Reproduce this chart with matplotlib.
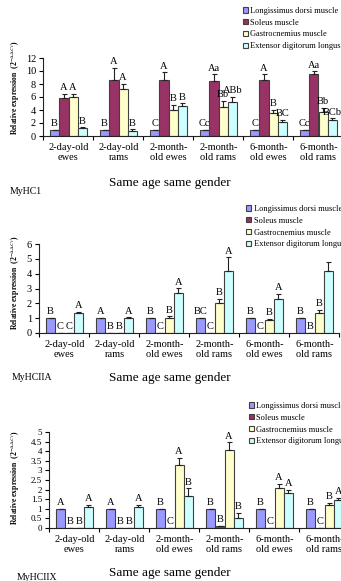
import numpy as np
import matplotlib
matplotlib.use('Agg')
import matplotlib.pyplot as plt

plt.rcParams['font.family'] = ['Liberation Serif', 'Noto Sans CJK SC']
plt.rcParams['mathtext.fontset'] = 'stix'

groups = ['2-day-old\newes', '2-day-old\nrams', '2-month-\nold ewes',
          '2-month-\nold rams', '6-month-\nold ewes', '6-month-\nold rams']
muscles = ['Longissimus dorsi muscle', 'Soleus muscle',
           'Gastrocnemius muscle', 'Extensor digitorum longus']
colors = ['#9999ff', '#993366', '#ffffcc', '#ccffff']

# MyHC1
i_ld = [1, 1, 1, 1, 1, 1]
i_sol = [5.92, 8.66, 8.66, 8.46, 8.56, 9.47]
i_gas = [6.03, 7.29, 4.0, 4.4, 3.49, 3.65]
i_edl = [1.16, 0.81, 4.56, 5.27, 2.13, 2.43]
i_ld_err = [0, 0, 0, 0, 0, 0]
i_sol_err = [0.6, 1.8, 1.15, 1.05, 0.95, 0.5]
i_gas_err = [0.5, 0.75, 0.75, 1.0, 0.5, 0.7]
i_edl_err = [0.15, 0.2, 0.45, 0.75, 0.4, 0.3]
i_let = [['B', 'B', 'C', 'Cc', 'C', 'Cc'],
         ['A', 'A', 'A', 'Aa', 'A', 'Aa'],
         ['A', 'A', 'B', 'Bb', 'B', 'Bb'],
         ['B', 'B', 'B', 'ABb', 'BC', 'BCb']]

# MyHCIIA
a_ld = [1, 1, 1, 1, 1, 1]
a_sol = [0.02, 0.02, 0.02, 0.02, 0.02, 0.02]
a_gas = [0.02, 0.02, 1.0, 2.04, 0.88, 1.34]
a_edl = [1.36, 0.98, 2.68, 4.15, 2.26, 4.2]
a_ld_err = [0, 0, 0, 0, 0, 0]
a_sol_err = [0, 0, 0, 0, 0, 0]
a_gas_err = [0, 0, 0.12, 0.27, 0.07, 0.22]
a_edl_err = [0.08, 0.08, 0.34, 0.95, 0.38, 0.6]
a_let = [['B', 'A', 'B', 'BC', 'B', 'B'],
         ['C', 'B', 'C', 'C', 'C', 'B'],
         ['C', 'B', 'B', 'B', 'B', 'B'],
         ['A', 'A', 'A', 'A', 'A', '']]

# MyHCIIX
x_ld = [1, 1, 1, 1, 1, 1]
x_sol = [0.02, 0.02, 0.02, 0.1, 0.02, 0.02]
x_gas = [0.02, 0.02, 3.3, 4.08, 2.06, 1.21]
x_edl = [1.09, 1.09, 1.66, 0.52, 1.8, 1.44]
x_ld_err = [0, 0, 0, 0, 0, 0]
x_sol_err = [0, 0, 0, 0, 0, 0]
x_gas_err = [0, 0, 0.35, 0.38, 0.24, 0.1]
x_edl_err = [0.12, 0.1, 0.4, 0.28, 0.2, 0.13]
x_let = [['A', 'A', 'B', 'B', 'B', 'B'],
         ['B', 'B', 'C', 'B', 'C', 'C'],
         ['B', 'B', 'A', 'A', 'A', 'B'],
         ['A', 'A', 'B', 'B', 'A', 'A']]

W, H = 341, 581
fig = plt.figure(figsize=(W / 100, H / 100), dpi=100)


def px(x, y):
    return x / W, 1 - y / H


def panel(rect, vals, errs, letters, yticks, ytl, tick_fs, name, leg_xy,
          ylab_xy, xlab_y, name_xy):
    ax = fig.add_axes(rect)
    x = np.arange(6) + 0.51
    bw = 0.185
    for k in range(4):
        xs = x + (k - 1.5) * bw
        ax.bar(xs, vals[k], bw, color=colors[k], edgecolor='#404040',
               linewidth=0.8, label=muscles[k], zorder=2)
        ax.errorbar(xs, vals[k], yerr=[np.zeros(6), errs[k]], fmt='none',
                    ecolor='#222222', elinewidth=0.8, capsize=1.8,
                    capthick=0.8, zorder=3)
        for j in range(6):
            ax.annotate(letters[k][j], (xs[j], vals[k][j] + errs[k][j]),
                        xytext=(0, 1.2), textcoords='offset points',
                        ha='center', va='bottom', fontsize=7.5,
                        annotation_clip=False)
    ax.set_xlim(0, 6)
    ax.set_ylim(yticks[0], yticks[-1])
    ax.set_yticks(yticks)
    ax.set_yticklabels(ytl, fontsize=tick_fs)
    ax.set_xticks(x)
    ax.set_xticklabels(groups, fontsize=7.5, linespacing=1.1)
    ax.set_xticks(np.arange(7), minor=True)
    ax.tick_params(axis='x', which='major', length=0, pad=5)
    ax.tick_params(axis='x', which='minor', length=3, width=0.8, direction='out')
    ax.tick_params(axis='y', length=3, width=0.8, direction='out', pad=2)
    for s in ['top', 'right']:
        ax.spines[s].set_visible(False)
    for s in ['left', 'bottom']:
        ax.spines[s].set_linewidth(0.8)
        ax.spines[s].set_color('#222222')
    fig.legend(*ax.get_legend_handles_labels(), loc='upper left',
               bbox_to_anchor=px(*leg_xy), frameon=False, fontsize=6,
               handlelength=0.6, handleheight=0.6, handletextpad=0.3,
               labelspacing=0.45, borderpad=0, borderaxespad=0)
    fig.text(*px(*ylab_xy), 'Relative expression  (2$^{-\\Delta\\Delta Ct}$)',
             rotation=90, ha='center', va='center', fontsize=5.5,
             fontweight='bold')
    fig.text(*px(170, xlab_y), 'Same age same gender', ha='center',
             va='center', fontsize=9.5)
    fig.text(*px(*name_xy), name, ha='left', va='center', fontsize=7)
    return ax


def rect(l, r, t, b):
    return [l / W, 1 - b / H, (r - l) / W, (b - t) / H]


panel(rect(43, 343, 58, 136), [i_ld, i_sol, i_gas, i_edl],
      [i_ld_err, i_sol_err, i_gas_err, i_edl_err], i_let,
      [0, 2, 4, 6, 8, 10, 12], ['0', '2', '4', '6', '8', '10', '12'], 7.5,
      'MyHC1', (243, 7), (15, 88), 183, (10, 191))

panel(rect(39, 339, 244, 333), [a_ld, a_sol, a_gas, a_edl],
      [a_ld_err, a_sol_err, a_gas_err, a_edl_err], a_let,
      [0, 1, 2, 3, 4, 5, 6], ['0', '1', '2', '3', '4', '5', '6'], 7.5,
      'MyHCIIA', (246, 205), (15, 283), 378, (12, 378))

panel(rect(49, 349, 432, 528), [x_ld, x_sol, x_gas, x_edl],
      [x_ld_err, x_sol_err, x_gas_err, x_edl_err], x_let,
      [0, 0.5, 1, 1.5, 2, 2.5, 3, 3.5, 4, 4.5, 5],
      ['0', '0.5', '1', '1.5', '2', '2.5', '3', '3.5', '4', '4.5', '5'], 6.5,
      'MyHCIIX', (249, 402), (15, 478), 573, (17, 577))

fig.savefig('out.png', dpi=100)
